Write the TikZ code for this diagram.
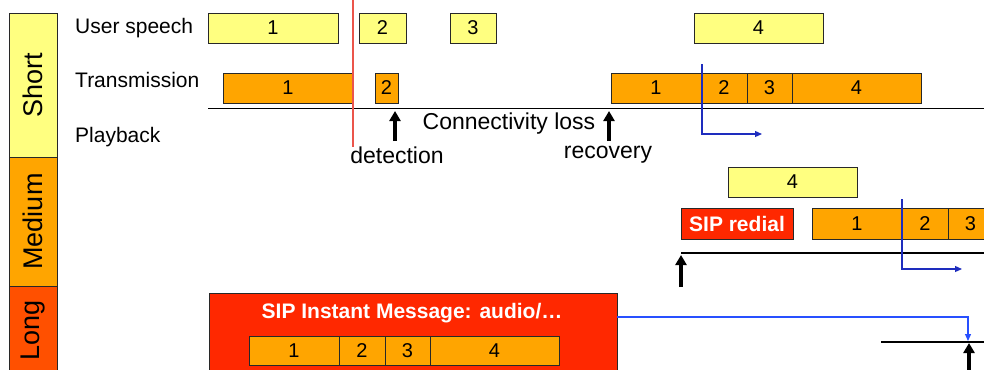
\documentclass[tikz,border=0pt]{standalone}
\usepackage{fontspec}
\setmainfont{Liberation Sans}
\usetikzlibrary{arrows.meta}
\definecolor{ylw}{RGB}{255,255,128}
\definecolor{org}{RGB}{255,165,0}
\definecolor{lng}{RGB}{255,80,0}
\definecolor{sipred}{RGB}{255,40,0}
\definecolor{bdr}{RGB}{40,40,40}
\definecolor{bluA}{RGB}{30,45,190}
\definecolor{bluB}{RGB}{40,80,255}
\definecolor{redl}{RGB}{235,85,75}
\begin{document}
\begin{tikzpicture}[x=1pt,y=-1pt,
  box/.style={draw=bdr,line width=0.9pt,inner sep=0pt,outer sep=0pt,anchor=north west,minimum height=30,font=\fontsize{20}{22}\selectfont},
  ybox/.style={box,fill=ylw},
  obox/.style={box,fill=org},
  rbox/.style={box,fill=sipred,text=white,font=\fontsize{21}{23}\selectfont\bfseries},
  catbox/.style={draw=bdr,line width=0.9pt,inner sep=0pt,outer sep=0pt,anchor=north west,minimum width=48},
  cattext/.style={rotate=90,font=\fontsize{27}{30}\selectfont},
  rowlab/.style={anchor=west,inner sep=0pt,font=\fontsize{21}{23}\selectfont},
  note/.style={inner sep=0pt,font=\fontsize{23}{26}\selectfont},
  timeline/.style={line width=1.8pt},
  uparr/.style={line width=3.4pt,-{Triangle[width=11pt,length=10pt]}},
  bluarr/.style={line width=1.2pt,-{Triangle[width=6pt,length=7pt]}},
]
\useasboundingbox (0,0) rectangle (984,369);
\clip (0,0) rectangle (984,369);

% category column
\node[catbox,fill=ylw,minimum height=144] (short) at (9,13) {};
\node[cattext] at (short.center) {Short};
\node[catbox,fill=org,minimum height=129] (medium) at (9,157) {};
\node[cattext] at (medium.center) {Medium};
\node[catbox,fill=lng,minimum height=95] (long) at (9,286) {};
\node[cattext] at (9+24,330) {Long};

% row labels
\node[rowlab] (lus) at (75,28) {User speech};
\node[rowlab] (ltr) at (75,80) {Transmission};
\node[rowlab] (lpb) at (75,137) {Playback};

% SHORT: user speech
\node[ybox,minimum width=130] (us1) at (208,13) {1};
\node[ybox,minimum width=47] (us2) at (359,13) {2};
\node[ybox,minimum width=46] (us3) at (450,13) {3};
\node[ybox,minimum width=129] (us4) at (694,13) {4};

% SHORT: transmission
\node[obox,minimum width=130] (tr1) at (223,73) {1};
\node[obox,minimum width=23] (tr2) at (375,73) {2};
\node[obox,minimum width=90] (rt1) at (611,73) {1};
\node[obox,minimum width=46] (rt2) at (701,73) {2};
\node[obox,minimum width=45] (rt3) at (747,73) {3};
\node[obox,minimum width=129] (rt4) at (792,73) {4};

% SHORT: playback line
\coordinate (pbA) at (208,108.5);
\coordinate (pbB) at (990,108.5);
\draw[timeline] (pbA) -- (pbB);

% red vertical line
\coordinate (rlA) at (353,0);
\coordinate (rlB) at (353,147);
\draw[redl,line width=1.2pt] (rlA) -- (rlB);

% detection / recovery
\coordinate (detA) at (395,141);
\coordinate (detB) at (395,111);
\draw[uparr] (detA) -- (detB);
\coordinate (recA) at (609,141);
\coordinate (recB) at (609,111);
\draw[uparr] (recA) -- (recB);
\node[note] (det) at (397,155) {detection};
\node[note] (conn) at (509,124) {Connectivity loss};
\node[note] (rec) at (608,155) {recovery};

% SHORT: blue arrow
\coordinate (b1A) at (702,64);
\coordinate (b1B) at (762,134);
\draw[bluarr,bluA] (b1A) |- (b1B);

% MEDIUM
\node[ybox,minimum width=129] (mus4) at (728,167) {4};
\node[rbox,minimum width=112,minimum height=31] (redial) at (681,208) {SIP redial};
\node[obox,minimum width=90,minimum height=31] (mt1) at (812,208) {1};
\node[obox,minimum width=46,minimum height=31] (mt2) at (902,208) {2};
\node[obox,minimum width=45,minimum height=31] (mt3) at (948,208) {3};
\node[obox,minimum width=129,minimum height=31] (mt4) at (993,208) {4};
\coordinate (mpA) at (681,253);
\coordinate (mpB) at (990,253);
\draw[timeline] (mpA) -- (mpB);
\coordinate (maA) at (681,287);
\coordinate (maB) at (681,255);
\draw[uparr] (maA) -- (maB);
\coordinate (b2A) at (902,199);
\coordinate (b2B) at (962,269);
\draw[bluarr,bluA] (b2A) |- (b2B);

% LONG
\node[box,fill=sipred,minimum width=408,minimum height=95] (im) at (209,293) {};
\node[inner sep=0pt,text=white,font=\fontsize{21}{23}\selectfont\bfseries] (imt) at (412,313) {SIP Instant Message: audio/…};
\node[obox,minimum width=90,minimum height=29] (lt1) at (249,336) {1};
\node[obox,minimum width=46,minimum height=29] (lt2) at (339,336) {2};
\node[obox,minimum width=45,minimum height=29] (lt3) at (385,336) {3};
\node[obox,minimum width=129,minimum height=29] (lt4) at (430,336) {4};
\coordinate (b3A) at (617,317);
\coordinate (b3B) at (968,341);
\draw[bluarr,bluB] (b3A) -| (b3B);
\coordinate (lpA) at (881,342);
\coordinate (lpB) at (990,342);
\draw[timeline] (lpA) -- (lpB);
\coordinate (laA) at (969,375);
\coordinate (laB) at (969,343);
\draw[uparr] (laA) -- (laB);
\end{tikzpicture}
\end{document}
